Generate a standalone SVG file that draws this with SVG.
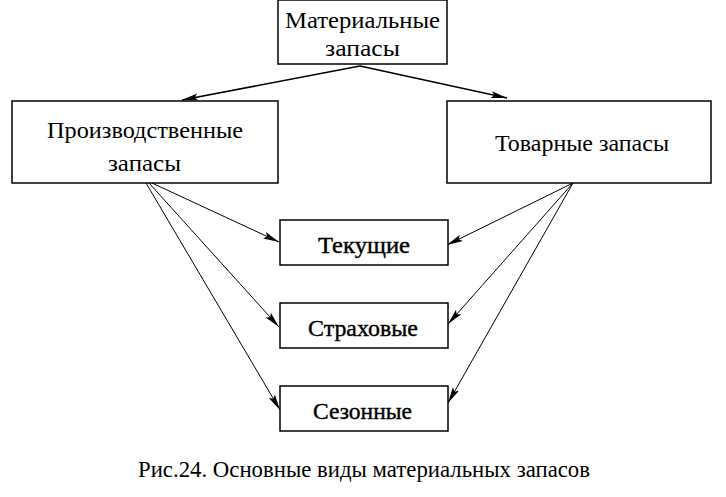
<svg xmlns="http://www.w3.org/2000/svg" width="726" height="497" viewBox="0 0 726 497">
<style>
.box{fill:#fff;stroke:#000;stroke-width:1.5}
.t{font-family:"Liberation Serif","Times New Roman",serif;font-size:23px;fill:#000}
.b{font-size:24px;stroke:#000;stroke-width:0.4}
.c{stroke:#000;fill:none}
</style>
<defs>
<marker id="ah" viewBox="0 0 16 8" refX="16" refY="4" markerWidth="16" markerHeight="8" markerUnits="userSpaceOnUse" orient="auto">
<path d="M0,0.5 L16,4 L0,7.5 L3,4 Z" fill="#000"/>
</marker>
</defs>
<rect width="726" height="497" fill="#fff"/>
<g id="connectors">
<line class="c" stroke-width="1.5" x1="360" y1="66" x2="182" y2="100" marker-end="url(#ah)"/>
<line class="c" stroke-width="1.5" x1="360" y1="66" x2="507" y2="98" marker-end="url(#ah)"/>
<line class="c" stroke-width="1" x1="152" y1="183" x2="279" y2="242" marker-end="url(#ah)"/>
<line class="c" stroke-width="1" x1="149" y1="183" x2="279" y2="327" marker-end="url(#ah)"/>
<line class="c" stroke-width="1" x1="146" y1="183" x2="280" y2="410" marker-end="url(#ah)"/>
<line class="c" stroke-width="1" x1="573" y1="183" x2="447" y2="245" marker-end="url(#ah)"/>
<line class="c" stroke-width="1" x1="573" y1="183" x2="448" y2="324" marker-end="url(#ah)"/>
<line class="c" stroke-width="1" x1="573" y1="183" x2="448" y2="403" marker-end="url(#ah)"/>
</g>
<g id="n-material">
<rect class="box" x="278" y="0" width="169" height="64"/>
<text class="t" x="285" y="28" textLength="155" lengthAdjust="spacingAndGlyphs">Материальные</text>
<text class="t" x="325" y="56" textLength="75" lengthAdjust="spacingAndGlyphs">запасы</text>
</g>
<g id="n-production">
<rect class="box" x="12" y="101" width="266" height="82"/>
<text class="t" x="47" y="138" textLength="196" lengthAdjust="spacingAndGlyphs">Производственные</text>
<text class="t" x="108" y="171" textLength="73" lengthAdjust="spacingAndGlyphs">запасы</text>
</g>
<g id="n-goods">
<rect class="box" x="447" y="101" width="264" height="82"/>
<text class="t" x="495" y="151" textLength="174" lengthAdjust="spacingAndGlyphs">Товарные запасы</text>
</g>
<g id="n-current">
<rect class="box" x="280" y="220" width="168" height="45"/>
<text class="t b" x="318" y="253" textLength="92" lengthAdjust="spacingAndGlyphs">Текущие</text>
</g>
<g id="n-insurance">
<rect class="box" x="280" y="303" width="168" height="45"/>
<text class="t b" x="308" y="336" textLength="110" lengthAdjust="spacingAndGlyphs">Страховые</text>
</g>
<g id="n-seasonal">
<rect class="box" x="280" y="386" width="168" height="45"/>
<text class="t b" x="313" y="419" textLength="99" lengthAdjust="spacingAndGlyphs">Сезонные</text>
</g>
<text class="t" x="138" y="477" textLength="452" lengthAdjust="spacingAndGlyphs">Рис.24. Основные виды материальных запасов</text>
</svg>
